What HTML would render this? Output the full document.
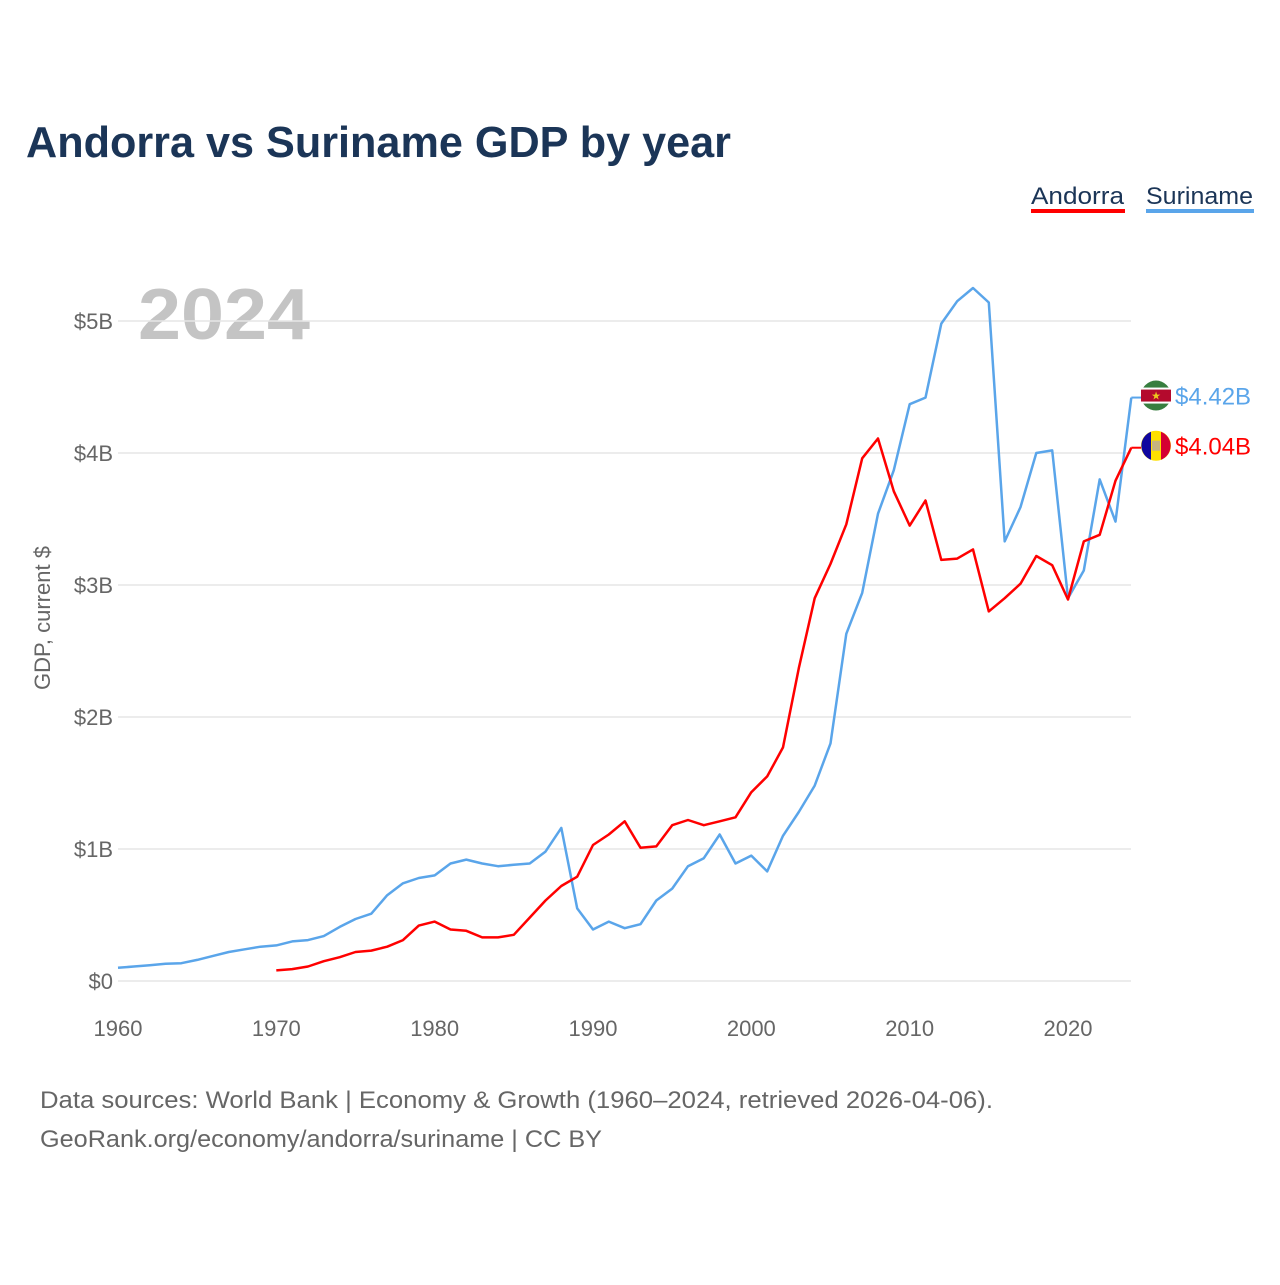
<!DOCTYPE html>
<html><head><meta charset="utf-8"><style>
body{margin:0;background:#fff;font-family:"Liberation Sans",sans-serif}
</style></head><body>
<svg id="c" width="1280" height="1280" xmlns="http://www.w3.org/2000/svg">
<rect width="1280" height="1280" fill="#fff"/>
<text x="26" y="157" font-size="44" font-weight="bold" fill="#1b3557" textLength="705" lengthAdjust="spacingAndGlyphs">Andorra vs Suriname GDP by year</text>
<g><text x="1031" y="204" font-size="24" fill="#1b3557" textLength="93" lengthAdjust="spacingAndGlyphs">Andorra</text><rect x="1031" y="209" width="94" height="4" fill="#ff0000"/></g>
<g><text x="1146" y="204" font-size="24" fill="#1b3557" textLength="107" lengthAdjust="spacingAndGlyphs">Suriname</text><rect x="1146" y="209" width="108" height="4" fill="#5aa5ea"/></g>
<text x="138" y="339" font-size="72" font-weight="bold" fill="#c4c4c4" textLength="172" lengthAdjust="spacingAndGlyphs">2024</text>
<text transform="translate(50,618) rotate(-90)" text-anchor="middle" font-size="22" fill="#666">GDP, current $</text>
<g id="grid"></g><g id="lines"></g><g id="ends"></g>
<text x="40" y="1108" font-size="24" fill="#666" textLength="953" lengthAdjust="spacingAndGlyphs">Data sources: World Bank | Economy &amp; Growth (1960–2024, retrieved 2026-04-06).</text>
<text x="40" y="1147" font-size="24" fill="#666" textLength="562" lengthAdjust="spacingAndGlyphs">GeoRank.org/economy/andorra/suriname | CC BY</text>
</svg>
<script>
const yTicks=[0,1,2,3,4,5];
const yTickLabels=["$0","$1B","$2B","$3B","$4B","$5B"];
const xTicks=[1960,1970,1980,1990,2000,2010,2020];
const surinameStart=1960;
const surinameGDP=[0.10,0.11,0.12,0.13,0.135,0.16,0.19,0.22,0.24,0.26,0.27,0.30,0.31,0.34,0.41,0.47,0.51,0.65,0.74,0.78,0.80,0.89,0.92,0.89,0.87,0.88,0.89,0.98,1.16,0.55,0.39,0.45,0.40,0.43,0.61,0.70,0.87,0.93,1.11,0.89,0.95,0.83,1.10,1.28,1.48,1.80,2.63,2.94,3.54,3.87,4.37,4.42,4.98,5.15,5.25,5.14,3.33,3.59,4.00,4.02,2.90,3.11,3.80,3.48,4.42];
const andorraStart=1970;
const andorraGDP=[0.08,0.09,0.11,0.15,0.18,0.22,0.23,0.26,0.31,0.42,0.45,0.39,0.38,0.33,0.33,0.35,0.48,0.61,0.72,0.79,1.03,1.11,1.21,1.01,1.02,1.18,1.22,1.18,1.21,1.24,1.43,1.55,1.77,2.37,2.90,3.16,3.46,3.96,4.11,3.71,3.45,3.64,3.19,3.20,3.27,2.80,2.90,3.01,3.22,3.15,2.89,3.33,3.38,3.79,4.04];
const NS="http://www.w3.org/2000/svg";
const X=yr=>118+(yr-1960)*(1068-118)/60;
const Y=v=>981-v*132;
function mk(t,a,p){const e=document.createElementNS(NS,t);for(const k in a)e.setAttribute(k,a[k]);p.appendChild(e);return e;}
const grid=document.getElementById('grid');
yTicks.forEach((v,i)=>{
 const l=mk('line',{x1:118,x2:1131,y1:Y(v),y2:Y(v),stroke:'#e6e6e6','stroke-width':1.5},grid);
 
 
 const t=mk('text',{x:113,y:Y(v)+8,'text-anchor':'end','font-size':22,fill:'#666'},grid);
 t.textContent=yTickLabels[i];
 
 
});
xTicks.forEach(yr=>{
 const t=mk('text',{x:X(yr),y:1036,'text-anchor':'middle','font-size':22,fill:'#666'},grid);
 t.textContent=yr;
 
 
});
const lines=document.getElementById('lines');
function series(start,vals,col,name){
 const d=vals.map((v,i)=>(i?'L':'M')+X(start+i).toFixed(1)+','+Y(v).toFixed(1)).join('');
 const p=mk('path',{d:d,fill:'none',stroke:col,'stroke-width':2.5,'stroke-linejoin':'round'},lines);
 
 
}
series(surinameStart,surinameGDP,'#5aa5ea','suriname-line');
series(andorraStart,andorraGDP,'#ff0000','andorra-line');
const ends=document.getElementById('ends');
function endLabel(v,col,name,flag){
 const y=Y(v);
 const g=mk('g',{},ends);
 
 
 mk('line',{x1:X(2024),x2:1141,y1:y,y2:y,stroke:col,'stroke-width':2},g);
 const cy=y-2;
 if(flag==='sr'){
  mk('circle',{cx:1156,cy:cy,r:15,fill:'#377e3f'},g);
  mk('rect',{x:1141,y:cy-6,width:30,height:12,fill:'#b40a2d'},g);
  mk('rect',{x:1141,y:cy-8,width:30,height:2,fill:'#fff'},g);
  mk('rect',{x:1141,y:cy+6,width:30,height:2,fill:'#fff'},g);
  mk('text',{x:1156,y:cy+4,'text-anchor':'middle','font-size':11,fill:'#ecc81d'},g).textContent='★';
 }else{
  mk('circle',{cx:1156,cy:cy,r:15,fill:'#fedf00'},g);
  mk('path',{d:`M1151,${cy-14} A15,15 0 0 0 1151,${cy+14} Z`,fill:'#10069f'},g);
  mk('path',{d:`M1161,${cy-14} A15,15 0 0 1 1161,${cy+14} Z`,fill:'#d50032'},g);
  mk('rect',{x:1152,y:cy-5,width:8,height:10,fill:'#c7b37f'},g);
 }
 const t=mk('text',{x:1175,y:y+7,'font-size':24,fill:col},g);
 t.textContent='$'+v.toFixed(2)+'B';
}
endLabel(surinameGDP[surinameGDP.length-1],'#5aa5ea','suriname-end-label','sr');
endLabel(andorraGDP[andorraGDP.length-1],'#ff0000','andorra-end-label','ad');
</script>
</body></html>
